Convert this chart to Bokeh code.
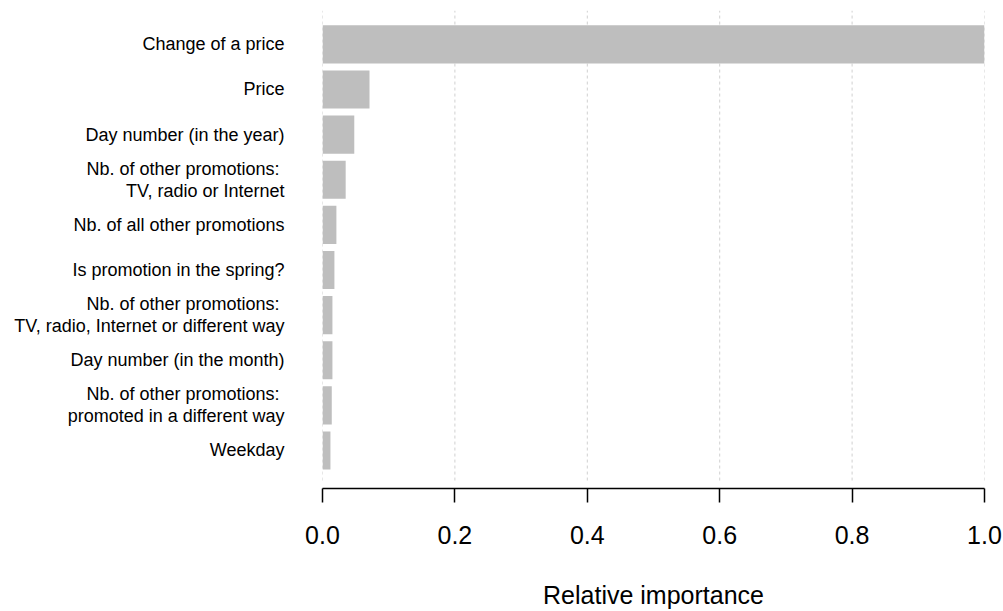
from bokeh.plotting import figure
from bokeh.models import Range1d, FixedTicker, PrintfTickFormatter
from bokeh.embed import file_html
from bokeh.resources import INLINE

# ---- data ----
categories = [
    "Change of a price",
    "Price",
    "Day number (in the year)",
    "Nb. of other promotions: \nTV, radio or Internet",
    "Nb. of all other promotions",
    "Is promotion in the spring?",
    "Nb. of other promotions: \nTV, radio, Internet or different way",
    "Day number (in the month)",
    "Nb. of other promotions: \npromoted in a different way",
    "Weekday",
]
importance = [1.0, 0.071, 0.048, 0.035, 0.021, 0.018, 0.015, 0.015, 0.014, 0.012]
x_ticks = [0.0, 0.2, 0.4, 0.6, 0.8, 1.0]

n = len(categories)
ypos = [n - i for i in range(n)]

FONT = "Liberation Sans"

p = figure(
    width=1003, height=611,
    x_range=Range1d(0, 1), y_range=Range1d(0.157, 10.75),
    output_backend="svg", toolbar_location=None,
    min_border_left=322, min_border_right=19,
    min_border_top=10, min_border_bottom=121,
)
p.outline_line_color = None
p.xgrid.visible = False
p.ygrid.visible = False
p.background_fill_color = "white"
p.border_fill_color = "white"

# dashed vertical grid lines
p.segment(x0=x_ticks, x1=x_ticks, y0=[0.333] * len(x_ticks), y1=[10.75] * len(x_ticks),
          line_color="#d0d0d0", line_width=1, line_dash="3 3")

p.hbar(y=ypos, left=0, right=importance, height=0.845,
       fill_color="#bebebe", line_color=None)

# x axis
xa = p.xaxis[0]
xa.ticker = FixedTicker(ticks=x_ticks)
xa.formatter = PrintfTickFormatter(format="%.1f")
xa.axis_line_color = "black"
xa.axis_line_width = 1.5
xa.major_tick_line_color = "black"
xa.major_tick_line_width = 1.5
xa.major_tick_out = 14
xa.major_tick_in = 0
xa.minor_tick_line_color = None
xa.major_label_standoff = 23
xa.major_label_text_font = FONT
xa.major_label_text_font_size = "25px"
xa.major_label_text_color = "black"
xa.axis_label = "Relative importance"
xa.axis_label_text_font = FONT
xa.axis_label_text_font_size = "25px"
xa.axis_label_text_font_style = "normal"
xa.axis_label_text_color = "black"
xa.axis_label_standoff = 34

# y axis with category labels
ya = p.yaxis[0]
ya.ticker = FixedTicker(ticks=ypos)
ya.major_label_overrides = {y: c for y, c in zip(ypos, categories)}
ya.axis_line_color = None
ya.major_tick_line_color = None
ya.minor_tick_line_color = None
ya.major_tick_out = 0
ya.major_tick_in = 0
ya.major_label_standoff = 38
ya.major_label_text_font = FONT
ya.major_label_text_font_size = "18px"
ya.major_label_text_line_height = 1.1
ya.major_label_text_color = "black"

open("out.html", "w").write(file_html(p, INLINE))
